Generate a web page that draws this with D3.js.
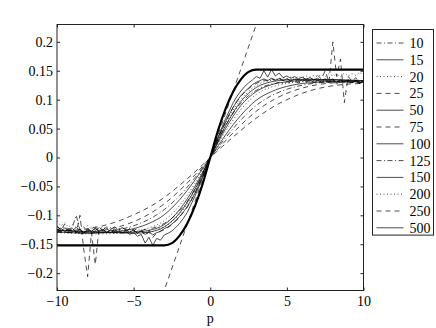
<!DOCTYPE html>
<html><head><meta charset="utf-8">
<script src="https://cdn.jsdelivr.net/npm/d3@7"></script>
<style>
html,body{margin:0;padding:0;background:#fff;}
svg text{font-family:"Liberation Serif","DejaVu Serif",serif;font-size:14px;fill:#000;}
</style></head>
<body>
<svg id="c" width="436" height="328"></svg>
<script>
// ---------------- data ----------------
const legendLabels = ["10","15","20","25","50","75","100","125","150","200","250","500"];
const xTicks = [-10,-5,0,5,10];
const yTicks = [-0.2,-0.15,-0.1,-0.05,0,0.05,0.1,0.15,0.2];

// smooth curves sampled at p = -10..10 (step 1)
const pSmooth = [-10,-9,-8,-7,-6,-5,-4,-3,-2,-1,0,1,2,3,4,5,6,7,8,9,10];
const s10  = [-0.128,-0.130,-0.131,-0.129,-0.125,-0.118,-0.107,-0.090,-0.066,-0.035,0,0.034,0.065,0.090,0.107,0.118,0.125,0.129,0.131,0.132,0.132];
const s15  = [-0.129,-0.130,-0.131,-0.130,-0.128,-0.123,-0.114,-0.099,-0.073,-0.039,0,0.039,0.073,0.099,0.114,0.123,0.128,0.130,0.131,0.131,0.130];
const s20  = [-0.130,-0.131,-0.132,-0.132,-0.131,-0.128,-0.122,-0.109,-0.083,-0.045,0,0.045,0.083,0.109,0.122,0.128,0.131,0.132,0.132,0.132,0.131];
const s25  = [-0.127,-0.126,-0.123,-0.118,-0.110,-0.099,-0.086,-0.069,-0.048,-0.025,0,0.024,0.047,0.068,0.086,0.100,0.111,0.119,0.124,0.127,0.128];
const s50  = [-0.126,-0.128,-0.129,-0.130,-0.130,-0.129,-0.126,-0.116,-0.090,-0.050,0,0.050,0.090,0.114,0.126,0.131,0.133,0.134,0.134,0.133,0.133];
const s75  = [-0.129,-0.130,-0.129,-0.126,-0.120,-0.111,-0.098,-0.080,-0.057,-0.030,0,0.029,0.056,0.080,0.098,0.111,0.120,0.126,0.129,0.130,0.130];
const s100 = [-0.125,-0.127,-0.128,-0.129,-0.130,-0.131,-0.129,-0.120,-0.096,-0.055,0,0.055,0.097,0.121,0.131,0.134,0.135,0.135,0.135,0.134,0.133];

// noisy curves sampled at p = -10..10 (step 0.25)
const pNoisy = d3.range(81).map(i => -10 + i * 0.25);
const s125 = [-0.120,-0.124,-0.119,-0.126,-0.121,-0.100,-0.125,-0.120,-0.127,-0.122,-0.126,-0.121,-0.125,-0.120,-0.124,-0.120,-0.124,-0.121,-0.125,-0.122,-0.126,-0.123,-0.127,-0.124,-0.126,-0.122,-0.120,-0.117,-0.114,-0.110,-0.105,-0.099,-0.092,-0.085,-0.076,-0.066,-0.055,-0.042,-0.028,-0.014,0,
  0.014,0.028,0.042,0.055,0.066,0.077,0.086,0.094,0.101,0.107,0.112,0.116,0.120,0.123,0.125,0.127,0.128,0.130,0.128,0.131,0.129,0.132,0.129,0.132,0.130,0.133,0.130,0.133,0.131,0.134,0.131,0.134,0.130,0.134,0.131,0.134,0.130,0.133,0.130,0.133];
const s150 = [-0.124,-0.128,-0.122,-0.127,-0.123,-0.129,-0.124,-0.131,-0.125,-0.128,-0.122,-0.127,-0.124,-0.130,-0.125,-0.128,-0.124,-0.130,-0.126,-0.129,-0.125,-0.131,-0.127,-0.133,-0.128,-0.134,-0.130,-0.128,-0.123,-0.120,-0.115,-0.109,-0.102,-0.094,-0.085,-0.074,-0.062,-0.048,-0.033,-0.017,0,
  0.017,0.033,0.048,0.062,0.075,0.087,0.098,0.107,0.114,0.120,0.126,0.130,0.133,0.136,0.133,0.137,0.134,0.136,0.133,0.136,0.132,0.135,0.131,0.135,0.132,0.134,0.130,0.134,0.131,0.133,0.129,0.134,0.127,0.133,0.130,0.132,0.129,0.133,0.128,0.131];
const s200 = [-0.110,-0.118,-0.113,-0.120,-0.116,-0.121,-0.117,-0.122,-0.118,-0.123,-0.119,-0.124,-0.120,-0.125,-0.121,-0.126,-0.122,-0.127,-0.123,-0.128,-0.125,-0.129,-0.126,-0.130,-0.127,-0.128,-0.125,-0.122,-0.120,-0.116,-0.111,-0.105,-0.098,-0.090,-0.081,-0.070,-0.058,-0.045,-0.030,-0.015,0,
  0.015,0.031,0.046,0.059,0.071,0.082,0.092,0.100,0.108,0.114,0.120,0.124,0.128,0.131,0.134,0.133,0.136,0.135,0.138,0.136,0.139,0.137,0.140,0.138,0.141,0.139,0.142,0.140,0.143,0.140,0.145,0.141,0.144,0.140,0.146,0.141,0.145,0.142,0.147,0.143];
const s250 = [-0.118,-0.126,-0.115,-0.124,-0.121,-0.130,-0.100,-0.160,-0.206,-0.130,-0.185,-0.120,-0.128,-0.122,-0.130,-0.124,-0.127,-0.121,-0.128,-0.123,-0.127,-0.130,-0.126,-0.135,-0.129,-0.138,-0.131,-0.127,-0.125,-0.121,-0.116,-0.110,-0.103,-0.095,-0.086,-0.075,-0.062,-0.047,-0.032,-0.016,0,
  0.016,0.032,0.047,0.061,0.075,0.087,0.097,0.106,0.113,0.119,0.124,0.128,0.131,0.134,0.132,0.136,0.133,0.137,0.134,0.136,0.133,0.137,0.134,0.138,0.135,0.139,0.134,0.142,0.136,0.150,0.130,0.200,0.140,0.170,0.095,0.140,0.132,0.138,0.128,0.135];
const s500 = [-0.126,-0.122,-0.128,-0.124,-0.127,-0.121,-0.126,-0.130,-0.124,-0.127,-0.123,-0.128,-0.125,-0.129,-0.126,-0.130,-0.127,-0.131,-0.128,-0.133,-0.130,-0.136,-0.133,-0.148,-0.138,-0.152,-0.140,-0.143,-0.134,-0.131,-0.127,-0.121,-0.114,-0.105,-0.095,-0.081,-0.067,-0.051,-0.035,-0.018,0,
  0.018,0.035,0.051,0.067,0.081,0.095,0.106,0.115,0.123,0.129,0.134,0.140,0.137,0.150,0.139,0.152,0.141,0.146,0.138,0.141,0.137,0.140,0.136,0.139,0.135,0.138,0.134,0.137,0.133,0.136,0.132,0.136,0.130,0.135,0.131,0.134,0.130,0.133,0.129,0.132];

// limiting curve (thick) and tangent line (steep dashed)
const limitP = [-10,-3,-2.5,-2,-1.5,-1,-0.5,0,0.5,1,1.5,2,2.5,3,10];
const limitV = [-0.152,-0.152,-0.148,-0.135,-0.114,-0.084,-0.046,0,0.046,0.084,0.114,0.135,0.148,0.152,0.152];
const tangentP = [-3.5,3.5];
const tangentV = [-0.268,0.268];

// ---------------- drawing ----------------
const svg = d3.select("#c");
const L = 57, R = 363.5, T = 24.5, B = 290.5;
const x = d3.scaleLinear().domain([-10,10]).range([L,R]);
const y = d3.scaleLinear().domain([-0.23,0.23]).range([B,T]);

const styles = {
  "10":"5,2.5,1,2.5","15":null,"20":"1,2.5","25":"5,4","50":null,"75":"5,4",
  "100":null,"125":"5,2.5,1,2.5","150":null,"200":"1,2.5","250":"5,4","500":null
};
const series = [
  {name:"10",p:pSmooth,v:s10,curve:d3.curveMonotoneX},
  {name:"15",p:pSmooth,v:s15,curve:d3.curveMonotoneX},
  {name:"20",p:pSmooth,v:s20,curve:d3.curveMonotoneX},
  {name:"25",p:pSmooth,v:s25,curve:d3.curveMonotoneX},
  {name:"50",p:pSmooth,v:s50,curve:d3.curveMonotoneX},
  {name:"75",p:pSmooth,v:s75,curve:d3.curveMonotoneX},
  {name:"100",p:pSmooth,v:s100,curve:d3.curveMonotoneX},
  {name:"125",p:pNoisy,v:s125,curve:d3.curveLinear},
  {name:"150",p:pNoisy,v:s150,curve:d3.curveLinear},
  {name:"200",p:pNoisy,v:s200,curve:d3.curveLinear},
  {name:"250",p:pNoisy,v:s250,curve:d3.curveLinear},
  {name:"500",p:pNoisy,v:s500,curve:d3.curveLinear}
];

svg.append("defs").append("clipPath").attr("id","clip")
  .append("rect").attr("x",L).attr("y",T).attr("width",R-L).attr("height",B-T);

const g = svg.append("g").attr("clip-path","url(#clip)");
series.forEach(s => {
  const line = d3.line().x((d,i)=>x(s.p[i])).y(d=>y(d)).curve(s.curve);
  g.append("path").attr("d", line(s.v)).attr("fill","none")
    .attr("stroke","#000").attr("stroke-width",0.7)
    .attr("stroke-dasharray", styles[s.name]);
});
const limLine = d3.line().x((d,i)=>x(limitP[i])).y(d=>y(d)).curve(d3.curveMonotoneX);
g.append("path").attr("d", limLine(limitV)).attr("fill","none")
  .attr("stroke","#000").attr("stroke-width",2.2);
const tanLine = d3.line().x((d,i)=>x(tangentP[i])).y(d=>y(d));
g.append("path").attr("d", tanLine(tangentV)).attr("fill","none")
  .attr("stroke","#000").attr("stroke-width",0.7).attr("stroke-dasharray","5,4");

// frame
svg.append("rect").attr("x",L).attr("y",T).attr("width",R-L).attr("height",B-T)
  .attr("fill","none").attr("stroke","#222").attr("stroke-width",1);

// axes (inward ticks on all sides)
const fmtX = d => (d<0?"\u2212":"") + Math.abs(d);
const fmtY = d => (d<0?"\u2212":"") + String(Math.abs(+d.toFixed(2)));
const axB = d3.axisBottom(x).tickValues(xTicks).tickSize(-3).tickPadding(6).tickFormat(fmtX);
const axT = d3.axisTop(x).tickValues(xTicks).tickSize(-3).tickFormat("");
const axL = d3.axisLeft(y).tickValues(yTicks).tickSize(-3).tickPadding(4).tickFormat(fmtY);
const axR = d3.axisRight(y).tickValues(yTicks).tickSize(-3).tickFormat("");
function styleAxis(sel){
  sel.select(".domain").remove();
  sel.selectAll("line").attr("stroke","#222");
  sel.selectAll("text").attr("font-family","Liberation Serif, serif").attr("font-size",14).attr("fill","#000");
}
svg.append("g").attr("transform",`translate(0,${B})`).call(axB).call(styleAxis);
svg.append("g").attr("transform",`translate(0,${T})`).call(axT).call(styleAxis);
svg.append("g").attr("transform",`translate(${L},0)`).call(axL).call(styleAxis);
svg.append("g").attr("transform",`translate(${R},0)`).call(axR).call(styleAxis);

svg.append("text").attr("x",x(0)).attr("y",322.5).attr("text-anchor","middle").text("p");

// legend
const lg = svg.append("g");
const lx = 372.5, ly = 29.5, lw = 61, rowH = 16.8;
lg.append("rect").attr("x",lx).attr("y",ly).attr("width",lw).attr("height",rowH*legendLabels.length+4)
  .attr("fill","#fff").attr("stroke","#222").attr("stroke-width",1);
legendLabels.forEach((name,i) => {
  const yy = ly + 13.5 + i*rowH;
  lg.append("line").attr("x1",lx+4).attr("x2",lx+31).attr("y1",yy).attr("y2",yy)
    .attr("stroke","#000").attr("stroke-width",0.7).attr("stroke-dasharray",styles[name]);
  lg.append("text").attr("x",lx+37).attr("y",yy).attr("dy","0.35em").text(name);
});
</script>
</body></html>
